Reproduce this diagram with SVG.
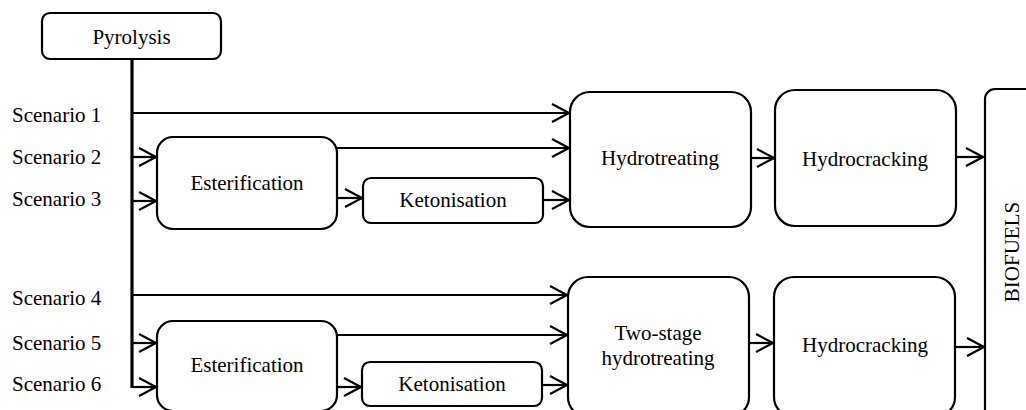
<svg xmlns="http://www.w3.org/2000/svg" width="1026" height="410" viewBox="0 0 1026 410">
<style>
.box{fill:#fff;stroke:#000;stroke-width:2.2}
text{font-family:'Liberation Serif','Times New Roman',Times,serif;font-size:21px;fill:#000}
.m{text-anchor:middle}
.c{fill:none;stroke:#000;stroke-width:2.2}
</style>
<defs>
<marker id="ah" markerUnits="userSpaceOnUse" markerWidth="24" markerHeight="24" viewBox="-20 -12 24 24" refX="0" refY="0" orient="auto">
<path d="M-17,-9 L0,0 L-17,9" fill="none" stroke="#000" stroke-width="2.2"/>
</marker>
</defs>
<rect width="1026" height="410" fill="#fff"/>
<g id="connectors">
<line x1="132" y1="59" x2="132" y2="388" stroke="#000" stroke-width="3.2"/>
<line class="c" x1="132" y1="113" x2="569" y2="113" marker-end="url(#ah)"/>
<line class="c" x1="132" y1="157" x2="156" y2="157" marker-end="url(#ah)"/>
<line class="c" x1="132" y1="201" x2="156" y2="201" marker-end="url(#ah)"/>
<line class="c" x1="337" y1="148" x2="569" y2="148" marker-end="url(#ah)"/>
<line class="c" x1="337" y1="198" x2="362" y2="198" marker-end="url(#ah)"/>
<line class="c" x1="543" y1="200" x2="569" y2="200" marker-end="url(#ah)"/>
<line class="c" x1="751" y1="158" x2="774" y2="158" marker-end="url(#ah)"/>
<line class="c" x1="956" y1="157" x2="983" y2="157" marker-end="url(#ah)"/>
<line class="c" x1="132" y1="295" x2="567" y2="295" marker-end="url(#ah)"/>
<line class="c" x1="132" y1="343" x2="156" y2="343" marker-end="url(#ah)"/>
<line class="c" x1="132" y1="387" x2="156" y2="387" marker-end="url(#ah)"/>
<line class="c" x1="337" y1="335" x2="567" y2="335" marker-end="url(#ah)"/>
<line class="c" x1="337" y1="387" x2="361" y2="387" marker-end="url(#ah)"/>
<line class="c" x1="542" y1="385" x2="567" y2="385" marker-end="url(#ah)"/>
<line class="c" x1="750" y1="343" x2="773" y2="343" marker-end="url(#ah)"/>
<line class="c" x1="956" y1="347" x2="984" y2="347" marker-end="url(#ah)"/>
</g>
<g id="pyrolysis"><rect class="box" x="42" y="13" width="179" height="46" rx="8"/><text class="m" x="131.5" y="44">Pyrolysis</text></g>
<g id="scenarios">
<text x="12" y="122">Scenario 1</text>
<text x="12" y="164">Scenario 2</text>
<text x="12" y="206">Scenario 3</text>
<text x="12" y="305">Scenario 4</text>
<text x="12" y="350">Scenario 5</text>
<text x="12" y="391">Scenario 6</text>
</g>
<g id="esterification1"><rect class="box" x="157" y="137" width="180" height="92" rx="16"/><text class="m" x="247" y="190">Esterification</text></g>
<g id="ketonisation1"><rect class="box" x="363" y="178" width="180" height="45" rx="8"/><text class="m" x="453" y="207">Ketonisation</text></g>
<g id="hydrotreating"><rect class="box" x="570" y="92" width="181" height="135" rx="20"/><text class="m" x="660" y="165">Hydrotreating</text></g>
<g id="hydrocracking1"><rect class="box" x="775" y="90" width="181" height="136" rx="20"/><text class="m" x="865" y="166">Hydrocracking</text></g>
<g id="biofuels"><rect class="box" x="985" y="89" width="60" height="340" rx="10"/><text class="m" transform="translate(1019,252) rotate(-90)" x="0" y="0">BIOFUELS</text></g>
<g id="esterification2"><rect class="box" x="157" y="321" width="180" height="90" rx="16"/><text class="m" x="247" y="372">Esterification</text></g>
<g id="ketonisation2"><rect class="box" x="362" y="362" width="180" height="44" rx="8"/><text class="m" x="452" y="391">Ketonisation</text></g>
<g id="twostage"><rect class="box" x="568" y="277" width="181" height="140" rx="20"/><text class="m" x="658" y="340">Two-stage</text><text class="m" x="658" y="365">hydrotreating</text></g>
<g id="hydrocracking2"><rect class="box" x="774" y="277" width="181" height="140" rx="20"/><text class="m" x="865" y="352">Hydrocracking</text></g>
</svg>
